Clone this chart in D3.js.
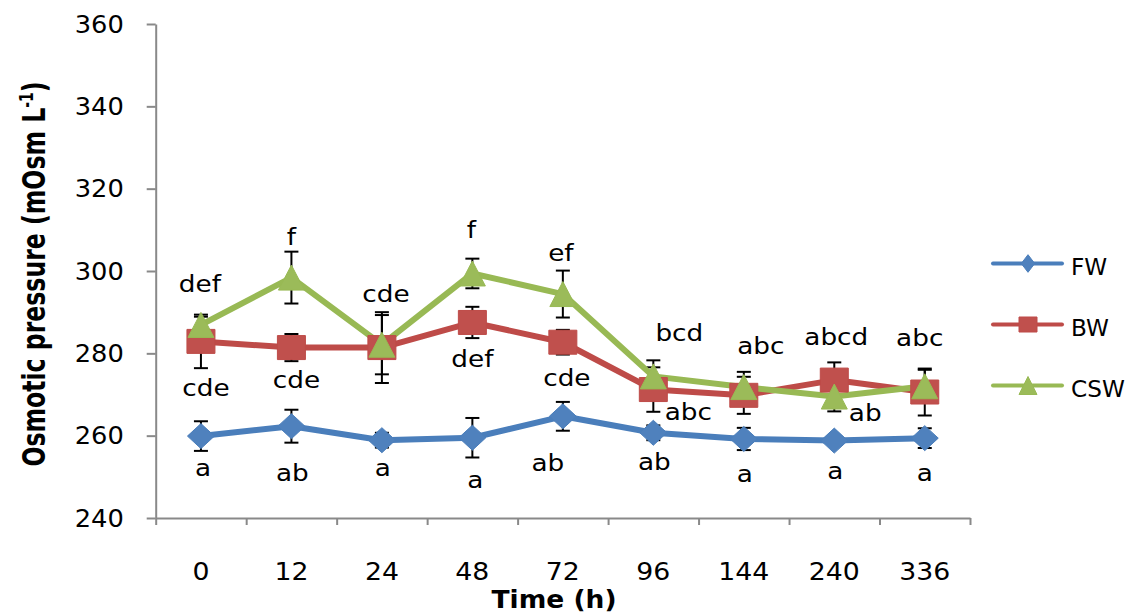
<!DOCTYPE html>
<html><head><meta charset="utf-8">
<script src="https://cdn.jsdelivr.net/npm/d3@7"></script>
<style>body{margin:0;background:#fff} svg{display:block}</style>
</head><body><svg id="c" width="1129" height="615"></svg>
<script>
// ---------- DATA ----------
const categories = ["0","12","24","48","72","96","144","240","336"];
const yTicks = [240,260,280,300,320,340,360];
const seriesNames = ["FW","BW","CSW"];
const fwValues  = [259.9, 262.3, 258.9, 259.5, 264.7, 260.7, 259.2, 258.8, 259.4];
const fwErrors  = [3.6, 4.0, 1.8, 4.8, 3.5, 1.8, 2.7, 1.0, 2.4];
const bwValues  = [282.9, 281.4, 281.4, 287.5, 282.7, 271.2, 269.8, 273.5, 270.6];
const bwErrors  = [6.5, 3.3, 8.6, 3.8, 3.0, 5.4, 4.5, 4.3, 5.7];
const cswValues = [286.9, 298.4, 282.1, 299.4, 294.4, 274.4, 271.8, 269.5, 272.0];
const cswErrors = [2.0, 6.3, 7.2, 3.6, 5.7, 3.9, 3.7, 3.6, 4.0];
const fwLetters  = ["a","ab","a","a","ab","ab","a","a","a"];
const bwLetters  = ["cde","cde","","def","cde","abc","","abcd",""];
const cswLetters = ["def","f","cde","f","ef","bcd","abc","ab","abc"];
const xTitle = "Time (h)";
const yTitle = "Osmotic pressure (mOsm L";

// ---------- LAYOUT / STYLE ----------
const fwLabelOffsets  = [[2,40],[1,55],[1,36],[3,50],[-15,55],[1,37],[1,43],[1,38],[0,43]];
const bwLabelOffsets  = [[5,55],[5,40],[0,0],[0,45],[4,44],[35,30],[0,0],[2,-35],[0,0]];
const cswLabelOffsets = [[-1,-33],[0,-33],[4,-43],[-1,-35],[-2,-33],[26,-35],[17,-33],[31,24],[-5,-40]];

const series = [
  {name: seriesNames[0], values: fwValues, errors: fwErrors, letters: fwLetters, offsets: fwLabelOffsets,
   line: "#4A7EBB", fill: "#4F81BD", shape: "diamond"},
  {name: seriesNames[1], values: bwValues, errors: bwErrors, letters: bwLetters, offsets: bwLabelOffsets,
   line: "#BE4B48", fill: "#C0504D", shape: "square"},
  {name: seriesNames[2], values: cswValues, errors: cswErrors, letters: cswLetters, offsets: cswLabelOffsets,
   line: "#98B954", fill: "#9BBB59", shape: "triangle"}
];

const FONT = "'DejaVu Sans', sans-serif";
const AXIS = "#898989";
const X0 = 155.7, X1 = 970, Y0 = 518, Y1 = 24;

const svg = d3.select("#c");
const x = d3.scaleBand().domain(categories).range([X0, X1]);
const cx = c => x(c) + x.bandwidth() / 2;
const y = d3.scaleLinear().domain([240, 360]).range([Y0, Y1]);

function shapePath(shape, w, h) {
  if (shape === "diamond") return `M0,${-h}L${w},0L0,${h}L${-w},0Z`;
  if (shape === "square") return `M${-w},${-h}H${w}V${h}H${-w}Z`;
  return `M0,${-h}L${w},${h}L${-w},${h}Z`;
}
const markerSize = {diamond: [13.5, 12.5], square: [14, 12], triangle: [13, 12.5]};
const legendSize = {diamond: [6.7, 8.8], square: [9, 7.5], triangle: [9, 9]};

// ---------- AXES ----------
const gy = svg.append("g").attr("transform", `translate(${X0},0)`)
  .call(d3.axisLeft(y).tickValues(yTicks).tickSize(9).tickSizeOuter(0).tickPadding(22));
gy.select(".domain").attr("stroke", AXIS).attr("stroke-width", 2);
gy.selectAll(".tick line").attr("stroke", AXIS).attr("stroke-width", 2);
gy.selectAll(".tick text").attr("font-family", FONT).attr("font-size", 25).attr("fill", "#000")
  .attr("transform", "scale(1.03,1)");

const xb = d3.scaleLinear().domain([0, categories.length]).range([X0, X1]);
const gx = svg.append("g").attr("transform", `translate(0,${Y0})`)
  .call(d3.axisBottom(xb).tickValues(d3.range(categories.length + 1)).tickSize(7).tickSizeOuter(0).tickFormat(""));
gx.select(".domain").attr("stroke", AXIS).attr("stroke-width", 2);
gx.selectAll(".tick line").attr("stroke", AXIS).attr("stroke-width", 2);

const gxl = svg.append("g").attr("transform", `translate(0,${Y0})`)
  .call(d3.axisBottom(x).tickSize(0).tickPadding(44.7));
gxl.select(".domain").remove();
gxl.selectAll(".tick text").attr("font-family", FONT).attr("font-size", 25).attr("fill", "#000")
  .attr("transform", "scale(1.07,1)");

// titles
svg.append("text").attr("transform", "translate(554,608) scale(1.06,1)")
  .attr("text-anchor", "middle").attr("font-family", FONT).attr("font-weight", "bold")
  .attr("font-size", 25).text(xTitle);

const yt = svg.append("text").attr("transform", "translate(45,274) rotate(-90) scale(1,1.33)")
  .attr("text-anchor", "middle").attr("font-family", FONT).attr("font-weight", "bold")
  .attr("font-size", 23.6);
yt.append("tspan").text(yTitle);
yt.append("tspan").attr("font-size", 14).attr("dy", -9).text("-1");
yt.append("tspan").attr("dy", 9).text(")");

// ---------- ERROR BARS ----------
const ge = svg.append("g").attr("stroke", "#000").attr("stroke-width", 2);
series.forEach(s => {
  s.values.forEach((v, i) => {
    const px = cx(categories[i]), e = s.errors[i];
    ge.append("line").attr("x1", px).attr("x2", px).attr("y1", y(v - e)).attr("y2", y(v + e));
    [v - e, v + e].forEach(t => ge.append("line").attr("x1", px - 7).attr("x2", px + 7)
      .attr("y1", y(t)).attr("y2", y(t)));
  });
});

// ---------- LINES + MARKERS ----------
const line = d3.line().x((d, i) => cx(categories[i])).y(d => y(d));
series.forEach(s => {
  svg.append("path").datum(s.values).attr("d", line).attr("fill", "none")
    .attr("stroke", s.line).attr("stroke-width", 6).attr("stroke-linejoin", "round").attr("stroke-linecap", "round");
});
series.forEach(s => {
  const [w, h] = markerSize[s.shape];
  svg.append("g").selectAll("path").data(s.values).join("path")
    .attr("transform", (d, i) => `translate(${cx(categories[i])},${y(d)})`)
    .attr("d", shapePath(s.shape, w, h)).attr("fill", s.fill).attr("stroke", s.line).attr("stroke-width", 1);
});

// ---------- DATA LABELS ----------
series.forEach(s => {
  s.letters.forEach((t, i) => {
    if (!t) return;
    const [dx, dy] = s.offsets[i];
    svg.append("text")
      .attr("transform", `translate(${cx(categories[i]) + dx},${y(s.values[i]) + dy}) scale(1.12,1)`)
      .attr("text-anchor", "middle").attr("font-family", FONT).attr("font-size", 23.5).attr("fill", "#000")
      .text(t);
  });
});

// ---------- LEGEND ----------
series.forEach((s, i) => {
  const ly = 263.5 + i * 61;
  const g = svg.append("g");
  g.append("line").attr("x1", 993).attr("x2", 1062).attr("y1", ly).attr("y2", ly)
    .attr("stroke", s.line).attr("stroke-width", 4).attr("stroke-linecap", "round");
  const [w, h] = legendSize[s.shape];
  g.append("path").attr("transform", `translate(1028,${ly})`).attr("d", shapePath(s.shape, w, h))
    .attr("fill", s.fill).attr("stroke", s.line).attr("stroke-width", 1);
  g.append("text").attr("transform", `translate(1071,${ly + 11}) scale(1.03,1)`)
    .attr("font-family", FONT).attr("font-size", 22.5).attr("fill", "#000").text(s.name);
});
</script></body></html>
